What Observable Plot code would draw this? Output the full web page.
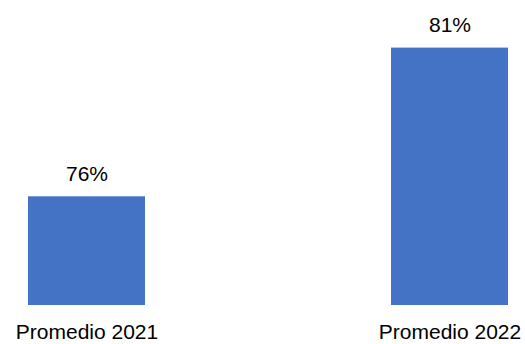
<!DOCTYPE html>
<html>
<head>
<meta charset="utf-8">
<script src="https://cdn.jsdelivr.net/npm/d3@7"></script>
<script src="https://cdn.jsdelivr.net/npm/@observablehq/plot@0.6"></script>
<style>
  html, body { margin: 0; padding: 0; background: #fff; }
</style>
</head>
<body>
<div id="chart"></div>
<script>
const categories = ["Promedio 2021", "Promedio 2022"];
const values = [75.8, 81.0];
const axisMin = 72;
const axisMax = 82;

const data = categories.map((c, i) => ({category: c, value: values[i], base: axisMin}));

const chart = Plot.plot({
  width: 525,
  height: 344,
  marginLeft: 27,
  marginRight: 17,
  marginTop: 19,
  marginBottom: 39,
  style: {fontFamily: "'Liberation Sans', Arial, sans-serif", fontSize: "21px", color: "#000", background: "#fff"},
  x: {domain: categories, paddingInner: 0.678, paddingOuter: 0, label: null},
  y: {domain: [axisMin, axisMax], axis: null},
  marks: [
    Plot.barY(data, {x: "category", y1: "base", y2: "value", fill: "#4472C4"}),
    Plot.text(data, {x: "category", y: "value", text: d => `${Math.round(d.value)}%`, lineAnchor: "bottom", dy: -16, fontSize: 21, fill: "#000"}),
    Plot.axisX({tickSize: 0, tickPadding: 19, fontSize: 21, label: null, color: "#000"})
  ]
});
document.getElementById("chart").appendChild(chart);
</script>
</body>
</html>
